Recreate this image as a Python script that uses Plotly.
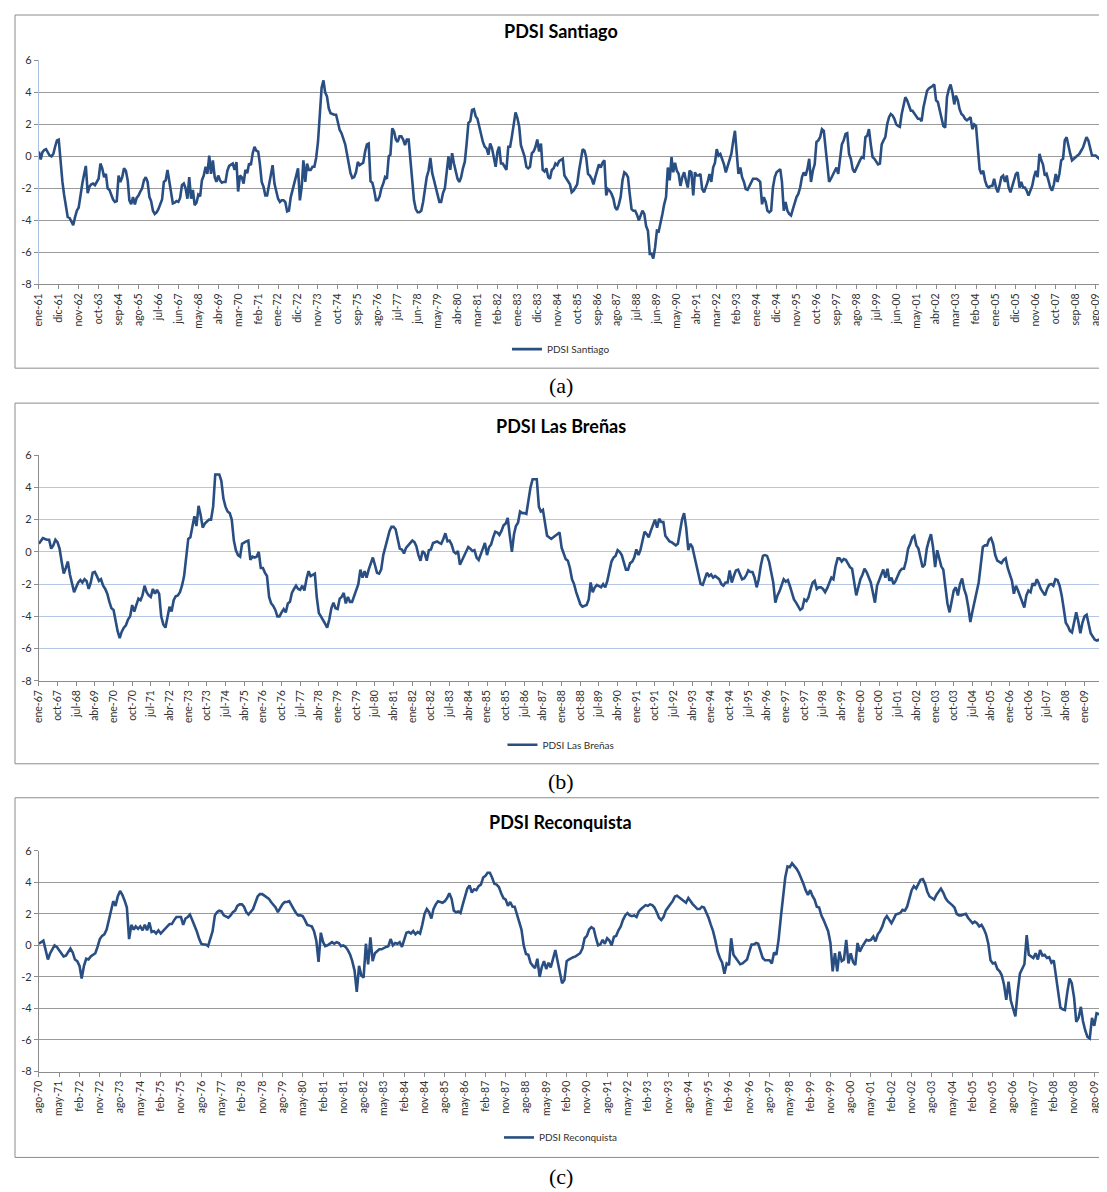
"""PDSI monthly series for Santiago, Las Breñas and Reconquista (three stacked panels)."""

import pandas as pd
import plotly.graph_objects as go

MESES = ["ene", "feb", "mar", "abr", "may", "jun", "jul", "ago", "sep", "oct", "nov", "dic"]
Y_TICKS = [-8, -6, -4, -2, 0, 2, 4, 6]

santiago_inicio = "1961-01-01"
santiago_paso_ticks = 11
santiago = [
    0.3, -0.2, 0.25, 0.4, 0.45, 0.25, 0.05, 0.0, 0.15, 0.6, 1.0,
    1.05, -0.6, -1.6, -2.4, -3.3, -3.8, -3.85, -4.05, -4.3, -3.8, -3.4,
    -3.2, -2.4, -1.7, -1.1, -0.6, -2.3, -1.9, -1.75, -1.7, -1.8, -1.6,
    -1.4, -0.45, -0.75, -1.3, -1.1, -2.0, -2.1, -2.4, -2.7, -2.85, -2.8,
    -1.2, -1.6, -1.3, -0.75, -0.9, -1.5, -2.75, -3.0, -2.55, -3.0, -2.6,
    -2.45, -2.2, -2.0, -1.5, -1.3, -1.6, -2.55, -2.8, -3.4, -3.6, -3.5,
    -3.3, -3.0, -2.7, -1.6, -1.5, -0.85, -1.6, -2.55, -2.95, -2.9, -2.8,
    -2.85, -2.6, -1.8, -1.7, -2.0, -2.65, -1.3, -2.65, -2.1, -3.05, -2.9,
    -2.4, -2.5, -1.5, -1.2, -0.65, -1.1, 0.05, -1.1, -0.25, -1.3, -1.6,
    -1.2, -1.5, -1.65, -1.6, -1.6, -0.9, -0.6, -0.5, -0.45, -0.85, -0.35,
    -2.2, -1.2, -1.3, -1.7, -0.85, -1.05, -0.45, -0.55, 0.2, 0.6, 0.35,
    0.3, -0.45, -1.6, -1.9, -2.45, -2.45, -1.8, -1.05, -0.55, -1.7, -2.2,
    -2.65, -2.85, -2.75, -2.75, -2.85, -3.45, -3.4, -2.55, -2.1, -1.6, -1.3,
    -0.75, -2.75, -1.9, -0.25, -1.6, -0.45, -0.85, -0.85, -0.65, -0.65, -0.1,
    0.9, 2.3, 4.3, 4.75, 4.0, 3.75, 3.0, 2.7, 2.65, 2.6, 2.6,
    2.2, 1.65, 1.45, 1.15, 0.75, 0.2, -0.55, -1.05, -1.35, -1.3, -1.0,
    -0.35, -0.55, -0.45, -0.4, 0.3, 0.75, 0.8, -1.55, -1.65, -2.1, -2.75,
    -2.75, -2.5, -2.0, -1.7, -1.3, -1.4, 0.0, 0.1, 1.75, 1.55, 1.05,
    0.9, 1.25, 1.25, 1.05, 0.7, 1.05, 1.05, -0.25, -1.5, -2.75, -3.3,
    -3.5, -3.5, -3.4, -2.85, -2.1, -1.3, -0.9, -0.1, -1.05, -1.5, -2.0,
    -2.3, -2.85, -2.85, -2.3, -2.0, -1.05, 0.0, -0.85, 0.2, -0.45, -0.85,
    -1.4, -1.6, -1.3, -0.75, -0.35, 0.8, 2.1, 2.2, 2.9, 2.95, 2.5,
    2.35, 1.85, 1.35, 0.9, 0.6, 0.5, 0.1, 0.8, 0.5, -0.15, -0.65,
    0.3, 0.6, -0.45, -0.45, -0.65, -0.85, 0.6, 0.6, 1.25, 2.1, 2.75,
    2.4, 1.85, 0.7, 0.4, 0.0, -0.65, -0.75, -0.65, 0.2, 0.3, 0.6,
    1.05, 0.3, 0.8, -0.85, -0.95, -0.75, -1.3, -1.4, -0.85, -0.75, -0.45,
    -0.55, -0.3, -0.2, -0.15, -1.2, -1.4, -1.6, -1.75, -2.25, -2.15, -1.95,
    -1.75, -0.9, -0.15, 0.45, 0.35, -0.05, -1.1, -1.2, -1.4, -1.75, -1.3,
    -0.9, -0.5, -0.7, -0.4, -0.25, -2.45, -2.05, -2.15, -2.35, -2.65, -3.2,
    -3.35, -3.0, -2.55, -1.5, -1.0, -1.1, -1.3, -2.35, -3.3, -3.4, -3.4,
    -3.65, -4.0, -3.7, -3.4, -3.6, -4.35, -4.65, -6.1, -6.1, -6.4, -5.7,
    -4.65, -4.7, -4.2, -3.6, -3.0, -2.55, -0.7, -1.5, -0.05, -1.0, -0.4,
    -0.9, -1.1, -1.85, -1.3, -1.0, -1.5, -1.95, -0.9, -1.0, -2.45, -1.0,
    -1.2, -1.2, -1.1, -2.05, -2.25, -1.95, -1.6, -1.1, -1.6, -0.7, -0.4,
    0.45, 0.05, 0.15, -0.15, -0.5, -1.0, -0.6, -0.3, 0.15, 0.9, 1.6,
    0.15, -1.1, -0.7, -1.3, -1.6, -2.05, -2.1, -1.85, -1.6, -1.4, -1.4,
    -1.4, -1.5, -1.6, -3.0, -2.55, -2.85, -3.4, -3.5, -3.4, -1.95, -1.3,
    -1.0, -0.9, -0.8, -1.6, -3.4, -2.85, -3.4, -3.6, -3.7, -3.3, -2.9,
    -2.55, -2.35, -1.95, -1.3, -1.0, -1.2, -0.8, -0.15, -1.6, -0.9, -0.5,
    0.9, 1.0, 1.2, 1.7, 1.6, 0.55, -0.5, -1.6, -1.4, -1.2, -1.0,
    -0.7, -1.1, -0.25, 0.75, 1.0, 1.4, 1.45, 0.15, -0.15, -0.8, -1.0,
    -0.7, -0.5, -0.25, -0.05, -0.1, 1.2, 1.3, 1.7, 0.75, -0.05, -0.15,
    -0.3, -0.5, -0.45, 0.75, 1.0, 1.2, 2.0, 2.45, 2.65, 2.55, 2.35,
    2.0, 1.9, 1.85, 2.65, 3.25, 3.7, 3.5, 3.15, 2.85, 2.85, 2.65,
    2.55, 2.35, 2.35, 2.2, 3.05, 3.6, 4.1, 4.25, 4.3, 4.4, 4.5,
    3.5, 3.4, 2.85, 2.35, 1.9, 1.8, 3.7, 4.2, 4.5, 4.0, 3.25,
    3.8, 3.5, 2.95, 2.65, 2.55, 2.35, 2.25, 2.35, 2.45, 1.7, 2.0,
    1.9, 0.55, -0.8, -1.1, -0.9, -1.5, -1.85, -1.95, -1.85, -1.85, -1.4,
    -1.95, -2.25, -1.85, -1.3, -1.2, -1.6, -1.2, -1.95, -2.25, -1.85, -1.4,
    -1.1, -1.0, -1.95, -1.6, -1.95, -1.95, -2.15, -2.45, -2.15, -1.85, -1.3,
    -0.9, -1.3, 0.15, -0.25, -0.5, -1.2, -1.1, -1.5, -1.95, -2.15, -1.75,
    -1.1, -1.6, -1.1, -0.25, -0.15, 1.0, 1.2, 0.55, 0.15, -0.25, -0.15,
    -0.05, 0.05, 0.15, 0.35, 0.55, 0.9, 1.2, 1.0, 0.45, 0.05, 0.05,
    0.05, -0.05, -0.15, -0.25,
]

brenas_inicio = "1967-01-01"
brenas_paso_ticks = 9
brenas = [
    0.5, 0.7, 0.85, 0.8, 0.75, 0.75, 0.2, 0.4, 0.75,
    0.6, 0.2, -0.6, -1.35, -1.0, -0.6, -1.4, -2.0, -2.5,
    -2.2, -1.9, -1.75, -1.9, -1.7, -1.8, -2.3, -1.9, -1.3,
    -1.25, -1.5, -1.8, -1.7, -2.1, -2.3, -2.6, -3.1, -3.5,
    -3.6, -4.4, -4.9, -5.35, -4.95, -4.7, -4.55, -4.2, -4.0,
    -3.3, -3.7, -3.3, -2.9, -3.0, -2.7, -2.1, -2.5, -2.7,
    -2.8, -2.3, -2.6, -2.35, -2.6, -4.0, -4.5, -4.7, -4.1,
    -3.4, -3.7, -3.0, -2.75, -2.7, -2.5, -2.1, -1.5, -0.5,
    0.8, 0.9, 1.5, 2.2, 1.6, 2.85, 2.3, 1.5, 1.75,
    1.9, 2.0, 2.0, 2.8, 4.8, 4.8, 4.8, 4.4, 3.3,
    2.8, 2.5, 2.4, 2.0, 0.7, 0.1, -0.2, -0.3, 0.5,
    0.6, 0.65, 0.7, -0.5, -0.3, -0.35, -0.3, 0.0, -1.0,
    -1.0, -1.3, -1.5, -2.8, -3.2, -3.35, -3.6, -4.0, -4.0,
    -3.75, -3.55, -3.75, -3.2, -3.1, -2.55, -2.3, -2.1, -2.3,
    -2.35, -2.1, -2.4, -1.7, -1.2, -1.5, -1.45, -1.35, -2.8,
    -3.8, -4.0, -4.2, -4.45, -4.7, -4.2, -3.5, -3.15, -3.5,
    -3.55, -2.9, -2.8, -2.55, -3.2, -2.8, -3.1, -3.1, -2.7,
    -2.4, -2.0, -1.1, -1.6, -1.2, -1.6, -1.1, -0.7, -0.35,
    -0.8, -1.3, -1.35, -1.1, -0.2, 0.3, 0.7, 1.3, 1.55,
    1.55, 1.4, 0.8, 0.2, 0.15, -0.1, 0.25, 0.4, 0.55,
    0.7, 0.6, 0.35, -0.2, -0.55, 0.05, -0.1, -0.55, 0.1,
    0.15, 0.55, 0.6, 0.65, 0.55, 0.5, 0.8, 1.15, 0.65,
    0.7, 0.45, 0.0, -0.1, 0.05, -0.8, -0.5, -0.3, 0.0,
    0.3, 0.2, 0.05, 0.1, -0.35, -0.5, -0.2, 0.2, 0.55,
    -0.2, 0.3, 0.45, 0.9, 1.25, 1.2, 1.05, 1.3, 1.65,
    1.75, 2.1, 1.0, 0.0, 1.1, 1.6, 1.8, 2.5, 2.4,
    2.4, 2.35, 3.3, 4.0, 4.5, 4.5, 4.5, 2.8, 2.5,
    2.6, 1.8, 1.0, 0.9, 0.8, 0.9, 1.0, 1.05, 1.2,
    0.25, -0.1, -0.45, -0.55, -1.0, -1.7, -2.0, -2.5, -2.9,
    -3.25, -3.4, -3.35, -3.3, -2.95, -1.9, -2.5, -2.2, -2.05,
    -2.1, -2.2, -2.0, -2.2, -1.8, -1.3, -0.6, -0.35, -0.25,
    0.1, 0.0, -0.2, -0.65, -1.1, -1.1, -0.7, -0.6, -0.35,
    0.15, -0.2, 0.1, 0.6, 1.25, 1.1, 0.9, 1.3, 1.7,
    2.0, 1.5, 2.05, 1.85, 1.85, 1.0, 0.8, 0.65, 0.6,
    0.5, 0.4, 0.5, 1.2, 2.0, 2.4, 1.5, 0.1, 0.5,
    0.3, -0.25, -0.8, -1.4, -2.0, -2.05, -1.7, -1.3, -1.5,
    -1.4, -1.6, -1.5, -1.6, -1.7, -2.0, -2.1, -1.9, -1.9,
    -1.15, -1.9, -1.5, -1.15, -1.1, -1.4, -1.7, -1.65, -1.45,
    -1.15, -1.25, -1.25, -1.6, -2.2, -1.7, -0.85, -0.25, -0.2,
    -0.25, -0.6, -1.2, -1.9, -3.15, -2.7, -2.45, -2.0, -1.7,
    -1.85, -1.75, -2.1, -2.6, -2.95, -3.15, -3.4, -3.6, -3.5,
    -2.95, -3.05, -2.8, -2.3, -1.9, -1.8, -2.3, -2.2, -2.2,
    -2.3, -2.5, -2.25, -1.9, -1.6, -1.7, -0.9, -0.4, -0.4,
    -0.6, -0.45, -0.5, -0.75, -0.95, -1.05, -1.9, -2.7, -2.2,
    -1.7, -1.4, -1.05, -1.25, -1.6, -1.9, -2.5, -3.15, -2.1,
    -1.8, -1.5, -1.1, -1.6, -1.05, -1.8, -1.6, -2.0, -1.8,
    -1.5, -1.2, -1.05, -1.05, -0.55, 0.2, 0.5, 0.9, 1.0,
    0.4, 0.2, -0.5, -0.95, -0.8, 0.2, 0.7, 1.1, 0.3,
    -0.95, 0.1, -0.45, -0.9, -1.1, -2.3, -3.2, -3.75, -3.0,
    -2.4, -2.2, -2.7, -2.0, -1.65, -2.3, -2.7, -3.4, -4.35,
    -3.7, -3.1, -2.6, -1.9, -0.8, 0.3, 0.4, 0.4, 0.75,
    0.85, 0.5, -0.2, -0.55, -0.6, -0.7, -0.5, -0.4, -1.0,
    -1.4, -1.8, -2.6, -2.1, -2.4, -2.75, -3.2, -3.45, -2.7,
    -2.4, -2.5, -1.95, -2.1, -1.7, -1.95, -2.3, -2.5, -2.7,
    -2.3, -2.05, -2.0, -2.1, -1.7, -1.75, -2.1, -2.7, -3.5,
    -4.4, -4.6, -4.9, -5.0, -4.4, -3.75, -4.3, -5.05, -4.4,
    -4.0, -3.9, -4.5, -5.05, -5.25, -5.45, -5.5, -5.45, -5.5,
]

reconquista_inicio = "1970-08-01"
reconquista_paso_ticks = 9
reconquista = [
    0.1, 0.2, 0.3, -0.3, -0.9, -0.5, -0.2, 0.0, -0.1,
    -0.3, -0.55, -0.7, -0.65, -0.4, -0.2, -0.45, -0.9, -1.0,
    -1.3, -2.1, -1.3, -0.85, -0.9, -0.7, -0.6, -0.5, -0.1,
    0.4, 0.6, 0.7, 1.0, 1.6, 2.2, 2.8, 2.5, 3.1,
    3.45, 3.2, 2.85, 2.4, 0.4, 1.3, 1.0, 1.2, 1.05,
    1.2, 0.95, 1.3, 0.95, 1.45, 0.85, 0.9, 0.75, 0.95,
    0.75, 0.9, 1.1, 1.2, 1.35, 1.35, 1.6, 1.8, 1.8,
    1.8, 1.3, 1.7, 1.8, 1.95, 1.6, 1.3, 0.9, 0.45,
    0.1, 0.05, 0.05, -0.05, 0.5, 0.9, 1.9, 2.1, 2.2,
    2.15, 1.9, 1.85, 1.75, 1.9, 2.1, 2.2, 2.5, 2.6,
    2.6, 2.45, 2.1, 1.95, 2.15, 2.3, 2.7, 3.1, 3.25,
    3.25, 3.15, 3.05, 2.95, 2.75, 2.6, 2.4, 2.1, 2.4,
    2.6, 2.75, 2.75, 2.8, 2.5, 2.3, 2.05, 1.9, 1.9,
    1.85, 1.6, 1.3, 1.25, 1.2, 0.9, 0.3, -1.05, 0.8,
    0.2, -0.05, 0.0, 0.1, 0.2, 0.1, 0.2, 0.15, -0.05,
    0.0, -0.1, -0.3, -0.6, -1.0, -1.6, -2.95, -1.3, -1.9,
    -2.05, 0.1, -1.2, 0.5, -1.0, -0.5, -0.35, -0.25, -0.25,
    -0.15, -0.1, -0.05, 0.4, 0.0, 0.15, 0.1, 0.2, -0.1,
    0.3, 0.8, 0.85, 0.75, 0.9, 0.7, 0.85, 0.75, 1.3,
    2.0, 2.3, 2.1, 1.7, 2.3, 2.6, 2.8, 2.75, 2.7,
    2.8, 3.0, 3.3, 2.95, 2.2, 2.1, 2.15, 2.05, 2.6,
    3.1, 3.6, 3.8, 3.35, 3.55, 3.5, 3.75, 3.85, 4.3,
    4.4, 4.6, 4.6, 4.3, 3.9, 3.85, 3.7, 3.3, 3.0,
    2.9, 2.5, 2.75, 2.45, 2.45, 1.9, 1.4, 1.0, 0.0,
    -0.55, -0.6, -1.1, -1.3, -1.45, -0.85, -2.0, -1.4, -1.0,
    -1.5, -1.1, -1.4, -0.8, -0.3, -1.0, -1.8, -2.4, -2.2,
    -1.0, -0.9, -0.8, -0.75, -0.7, -0.6, -0.5, -0.2, 0.45,
    0.6, 1.0, 1.15, 1.05, 0.5, 0.0, 0.05, 0.35, 0.1,
    0.45, 0.3, 0.0, 0.55, 0.6, 0.95, 1.2, 1.6, 1.9,
    2.05, 1.9, 1.85, 1.9, 1.8, 2.15, 2.3, 2.45, 2.55,
    2.5, 2.6, 2.55, 2.4, 2.1, 1.75, 1.6, 1.8, 2.2,
    2.45, 2.6, 2.8, 3.1, 3.15, 3.05, 2.9, 2.8, 2.7,
    3.0, 2.75, 2.6, 2.45, 2.3, 2.3, 2.45, 2.4, 2.1,
    1.75, 1.3, 0.9, 0.3, -0.4, -0.8, -1.1, -1.8, -1.15,
    -1.25, 0.45, -0.6, -0.8, -0.95, -1.2, -1.15, -1.0, -0.9,
    -0.4, 0.05, 0.05, 0.15, 0.1, -0.3, -0.8, -0.95, -0.95,
    -0.95, -1.15, -0.45, -0.6, 0.35, 1.8, 3.3, 4.3, 5.0,
    4.95, 5.2, 5.05, 4.85, 4.6, 4.3, 3.9, 3.5, 3.2,
    3.5, 3.15, 2.9, 2.45, 2.4, 1.9, 1.6, 1.3, 0.9,
    0.15, -1.65, -0.5, -1.65, -0.4, -1.0, -0.9, 0.35, -1.15,
    -0.5, -1.05, -1.25, 0.15, -0.4, -0.1, 0.1, 0.35, 0.3,
    0.35, 0.55, 0.25, 0.7, 0.9, 1.2, 1.65, 1.85, 1.6,
    1.4, 1.65, 1.95, 2.0, 2.05, 2.25, 2.2, 2.45, 3.0,
    3.5, 3.75, 3.6, 3.9, 4.15, 4.2, 3.9, 3.4, 3.1,
    3.0, 2.9, 3.2, 3.4, 3.6, 3.35, 3.0, 2.8, 2.7,
    2.55, 2.4, 2.0, 1.9, 1.9, 1.95, 2.0, 1.75, 1.6,
    1.4, 1.5, 1.4, 1.2, 1.3, 1.05, 0.7, 0.1, -0.95,
    -1.15, -1.1, -1.5, -1.65, -1.9, -2.5, -3.45, -2.3, -3.5,
    -4.0, -4.5, -3.0, -1.8, -1.5, -1.2, 0.65, -0.6, -0.7,
    -0.8, -0.5, -0.9, -0.3, -0.65, -0.6, -0.8, -0.75, -1.1,
    -0.95, -1.9, -3.0, -3.95, -4.05, -4.1, -3.0, -2.1, -2.4,
    -3.3, -4.85, -4.6, -3.9, -4.8, -5.4, -5.8, -5.9, -4.6,
    -5.1, -4.3, -4.35, -4.45,
]

W, H = 1107, 1192
LINE = "#294E82"
FONT = "Lato, 'Open Sans', sans-serif"


def fig_x(x):
    # horizontal pixel in the reference -> pixel inside the figure
    return 24 + (x - 38) * 1.0066


def fig_y(y):
    # vertical pixel in the reference -> pixel inside the figure
    return (y - 6.6) / 0.99 - 8


def px(x):
    return min(max(fig_x(x) / W, 0.0), 1.0)


def py(y):
    return min(max(1 - fig_y(y) / H, 0.0), 1.0)


def etiqueta(d):
    return f"{MESES[d.month - 1]}-{d.year % 100:02d}"


panels = [
    dict(name="PDSI Santiago", start=santiago_inicio, values=santiago, step=santiago_paso_ticks,
         box=(8, 368), title_y=31, plot=(60, 284), legend_y=349, caption="(a)", caption_y=385,
         grid="#9a9a9a", yline="#a9bfdc"),
    dict(name="PDSI Las Breñas", start=brenas_inicio, values=brenas, step=brenas_paso_ticks,
         box=(403, 764), title_y=426, plot=(455, 681), legend_y=745, caption="(b)", caption_y=782,
         grid="#b4c8e6", yline="#8c8c8c"),
    dict(name="PDSI Reconquista", start=reconquista_inicio, values=reconquista, step=reconquista_paso_ticks,
         box=(798, 1158), title_y=822, plot=(851, 1072), legend_y=1138, caption="(c)", caption_y=1177,
         grid="#9a9a9a", yline="#8c8c8c"),
]

fig = go.Figure()
shapes, annotations = [], []
layout_axes = {}

for i, p in enumerate(panels, start=1):
    sfx = "" if i == 1 else str(i)
    fechas = pd.date_range(p["start"], periods=len(p["values"]), freq="MS")
    ticks = fechas[:: p["step"]]
    leg = "legend" if i == 1 else f"legend{i}"

    fig.add_trace(
        go.Scatter(
            x=fechas,
            y=p["values"],
            mode="lines",
            name=p["name"],
            line=dict(color=LINE, width=2.6),
            xaxis=f"x{sfx}",
            yaxis=f"y{sfx}",
            legend=leg,
            showlegend=True,
        )
    )

    layout_axes[f"xaxis{sfx}"] = dict(
        domain=[px(38), px(1100)],
        anchor=f"y{sfx}",
        type="date",
        range=[fechas[0], fechas[-1]],
        tickmode="array",
        tickvals=list(ticks),
        ticktext=[etiqueta(d) for d in ticks],
        tickangle=-90,
        tickfont=dict(size=10.5, color="#303030", family=FONT),
        ticks="outside",
        ticklen=4,
        tickcolor="#8c8c8c",
        showline=True,
        linecolor="#8c8c8c",
        showgrid=False,
        zeroline=False,
    )
    y0, y1 = p["plot"]
    layout_axes[f"yaxis{sfx}"] = dict(
        domain=[py(y1), py(y0)],
        anchor=f"x{sfx}",
        range=[-8, 6],
        tickmode="array",
        tickvals=Y_TICKS,
        ticktext=[str(v) for v in Y_TICKS],
        tickfont=dict(size=11, color="#303030", family=FONT),
        ticks="outside",
        ticklen=4,
        tickcolor="#8c8c8c",
        showline=True,
        linecolor=p["yline"],
        gridcolor=p["grid"],
        gridwidth=1,
        zeroline=False,
    )
    layout_axes[leg] = dict(
        x=px(560),
        xanchor="center",
        y=py(p["legend_y"]),
        yanchor="middle",
        orientation="h",
        font=dict(size=10, color="#303030", family=FONT),
        bgcolor="rgba(0,0,0,0)",
        itemwidth=30,
    )

    b0, b1 = p["box"]
    shapes.append(dict(type="rect", xref="paper", yref="paper", x0=px(10), x1=px(1104),
                       y0=py(b1), y1=py(b0), line=dict(color="#8c8c8c", width=1)))
    annotations.append(dict(text=f"<b>{p['name']}</b>", xref="paper", yref="paper",
                            x=px(560), y=py(p["title_y"]), xanchor="center", yanchor="middle",
                            showarrow=False, font=dict(size=18, color="black", family=FONT)))
    annotations.append(dict(text=p["caption"], xref="paper", yref="paper",
                            x=px(560), y=py(p["caption_y"]), xanchor="center", yanchor="middle",
                            showarrow=False,
                            font=dict(size=22, color="black", family="Liberation Serif, serif")))

fig.update_layout(
    width=W,
    height=H,
    margin=dict(l=0, r=0, t=0, b=0),
    paper_bgcolor="white",
    plot_bgcolor="white",
    font=dict(family=FONT),
    showlegend=True,
    shapes=shapes,
    annotations=annotations,
    **layout_axes,
)

fig.write_html("out.html")
